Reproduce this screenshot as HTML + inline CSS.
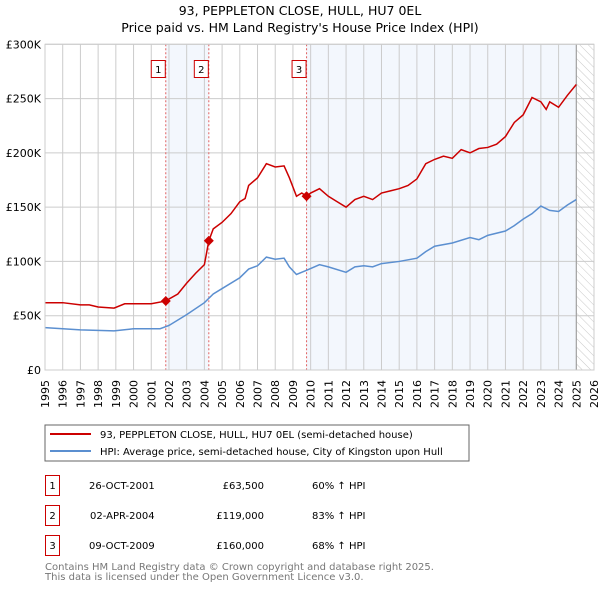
<!DOCTYPE html>
<html><head><meta charset="utf-8"><style>
body{margin:0;background:#fff;font-family:"DejaVu Sans","Liberation Sans",sans-serif;}
svg text{font-family:"DejaVu Sans","Liberation Sans",sans-serif;}
</style></head><body>
<svg id="chart" width="600" height="590" xmlns="http://www.w3.org/2000/svg">
<defs><pattern id="hatch" width="6" height="6" patternUnits="userSpaceOnUse" patternTransform="rotate(-45)"><line x1="0" y1="0" x2="0" y2="6" stroke="#bbb" stroke-width="0.8"/></pattern></defs>
<text x="300" y="15" text-anchor="middle" font-size="12.5">93, PEPPLETON CLOSE, HULL, HU7 0EL</text>
<text x="300" y="32" text-anchor="middle" font-size="12.5">Price paid vs. HM Land Registry's House Price Index (HPI)</text>
<g id="plot"></g>
<rect x="45" y="425" width="424" height="36" fill="#fff" stroke="#666"/>
<line x1="50" y1="434" x2="91" y2="434" stroke="#cc0000" stroke-width="2"/>
<text x="100" y="438" font-size="10">93, PEPPLETON CLOSE, HULL, HU7 0EL (semi-detached house)</text>
<line x1="50" y1="451" x2="91" y2="451" stroke="#5b8fd0" stroke-width="2"/>
<text x="100" y="455" font-size="10">HPI: Average price, semi-detached house, City of Kingston upon Hull</text>
<g font-size="10">
<rect x="45.5" y="475.5" width="14" height="20" fill="none" stroke="#cc0000"/><text x="52.5" y="489" text-anchor="middle">1</text>
<text x="89" y="489">26-OCT-2001</text><text x="264" y="489" text-anchor="end">£63,500</text><text x="312" y="489">60% ↑ HPI</text>
<rect x="45.5" y="505.5" width="14" height="20" fill="none" stroke="#cc0000"/><text x="52.5" y="519" text-anchor="middle">2</text>
<text x="90" y="519">02-APR-2004</text><text x="264" y="519" text-anchor="end">£119,000</text><text x="312" y="519">83% ↑ HPI</text>
<rect x="45.5" y="535.5" width="14" height="20" fill="none" stroke="#cc0000"/><text x="52.5" y="549" text-anchor="middle">3</text>
<text x="89" y="549">09-OCT-2009</text><text x="264" y="549" text-anchor="end">£160,000</text><text x="312" y="549">68% ↑ HPI</text>
</g>
<text x="45" y="570" font-size="10" fill="#777">Contains HM Land Registry data © Crown copyright and database right 2025.</text>
<text x="45" y="580" font-size="10" fill="#777">This data is licensed under the Open Government Licence v3.0.</text>
</svg>
<script>
const propYears=[1995,1996,1997,1997.5,1998,1998.9,1999.5,2000,2001,2001.8,2002.5,2003,2003.5,2004,2004.25,2004.5,2005,2005.5,2006,2006.3,2006.5,2007,2007.5,2008,2008.5,2008.8,2009.2,2009.5,2009.77,2010,2010.5,2011,2011.5,2012,2012.5,2013,2013.5,2014,2014.5,2015,2015.5,2016,2016.5,2017,2017.5,2018,2018.5,2019,2019.5,2020,2020.5,2021,2021.5,2022,2022.5,2023,2023.3,2023.5,2024,2024.5,2025];
const propValues=[62,62,60,60,58,57,61,61,61,63.5,70,80,89,97,119,130,136,144,155,158,170,177,190,187,188,177,160,163,160,163,167,160,155,150,157,160,157,163,165,167,170,176,190,194,197,195,203,200,204,205,208,215,228,235,251,247,240,247,242,253,263];
const hpiYears=[1995,1997,1998.9,2000,2001.5,2002,2003,2004,2004.5,2005,2006,2006.5,2007,2007.5,2008,2008.5,2008.8,2009.2,2009.8,2010.5,2011,2012,2012.5,2013,2013.5,2014,2015,2016,2016.5,2017,2018,2019,2019.5,2020,2021,2021.5,2022,2022.5,2023,2023.5,2024,2024.5,2025];
const hpiValues=[39,37,36,38,38,41,51,62,70,75,85,93,96,104,102,103,95,88,92,97,95,90,95,96,95,98,100,103,109,114,117,122,120,124,128,133,139,144,151,147,146,152,157];
const saleLabels=["1","2","3"];
const saleYears=[2001.82,2004.25,2009.77];
const saleValues=[63.5,119,160];
const yTicks=[0,50,100,150,200,250,300];
const yTickLabels=["£0","£50K","£100K","£150K","£200K","£250K","£300K"];
const xTicks=[];for(let y=1995;y<=2026;y++)xTicks.push(y);

const X0=45,X1=594,Y0=370,Y1=44.3;
const xs=v=>X0+(v-1995)/31*(X1-X0);
const ys=v=>Y0-v/300*(Y0-Y1);
const NS="http://www.w3.org/2000/svg";
const g=document.getElementById('plot');
function mk(t,a){const e=document.createElementNS(NS,t);for(const k in a)e.setAttribute(k,a[k]);g.appendChild(e);return e;}
let e;
e=mk('rect',{x:xs(saleYears[0]),y:Y1,width:xs(saleYears[1])-xs(saleYears[0]),height:Y0-Y1,fill:'#eef3fc',opacity:0.7});


e=mk('rect',{x:xs(saleYears[2]),y:Y1,width:xs(2025)-xs(saleYears[2]),height:Y0-Y1,fill:'#eef3fc',opacity:0.7});


e=mk('rect',{x:xs(2025),y:Y1,width:X1-xs(2025),height:Y0-Y1,fill:'url(#hatch)'});


xTicks.forEach(t=>{
 e=mk('line',{x1:xs(t),x2:xs(t),y1:Y1,y2:Y0,stroke:'#ccc','stroke-width':1});
 
 
 e=mk('text',{x:0,y:0,'font-size':11,'text-anchor':'end',transform:`translate(${xs(t)+4},${Y0+10}) rotate(-90)`});
 e.textContent=t;
 
 
});
yTicks.forEach((t,i)=>{
 e=mk('line',{x1:X0,x2:X1,y1:ys(t),y2:ys(t),stroke:'#ccc','stroke-width':1});
 
 
 e=mk('text',{x:X0-4,y:ys(t)+4,'font-size':11,'text-anchor':'end'});
 e.textContent=yTickLabels[i];
 
 
});
e=mk('line',{x1:xs(2025),x2:xs(2025),y1:Y1,y2:Y0,stroke:'#999','stroke-width':1});


saleYears.forEach((s,i)=>{
 e=mk('line',{x1:xs(s),x2:xs(s),y1:Y1,y2:Y0,stroke:'#e06060','stroke-width':1,'stroke-dasharray':'2,2'});
 
 
 e=mk('rect',{x:xs(s)-14.5,y:60.5,width:14,height:17,fill:'#fff',stroke:'#cc0000'});
 
 
 e=mk('text',{x:xs(s)-7.5,y:73,'font-size':10,'text-anchor':'middle'});
 e.textContent=saleLabels[i];
 
 
});
e=mk('polyline',{points:hpiYears.map((y,i)=>xs(y)+','+ys(hpiValues[i])).join(' '),fill:'none',stroke:'#5b8fd0','stroke-width':1.5});


e=mk('polyline',{points:propYears.map((y,i)=>xs(y)+','+ys(propValues[i])).join(' '),fill:'none',stroke:'#cc0000','stroke-width':1.5});


saleYears.forEach((s,i)=>{
 const cx=xs(s),cy=ys(saleValues[i]);
 e=mk('polygon',{points:`${cx},${cy-5} ${cx+5},${cy} ${cx},${cy+5} ${cx-5},${cy}`,fill:'#cc0000'});
 
 
});
e=mk('rect',{x:X0,y:Y1,width:X1-X0,height:Y0-Y1,fill:'none',stroke:'#ccc'});


</script>
</body></html>
